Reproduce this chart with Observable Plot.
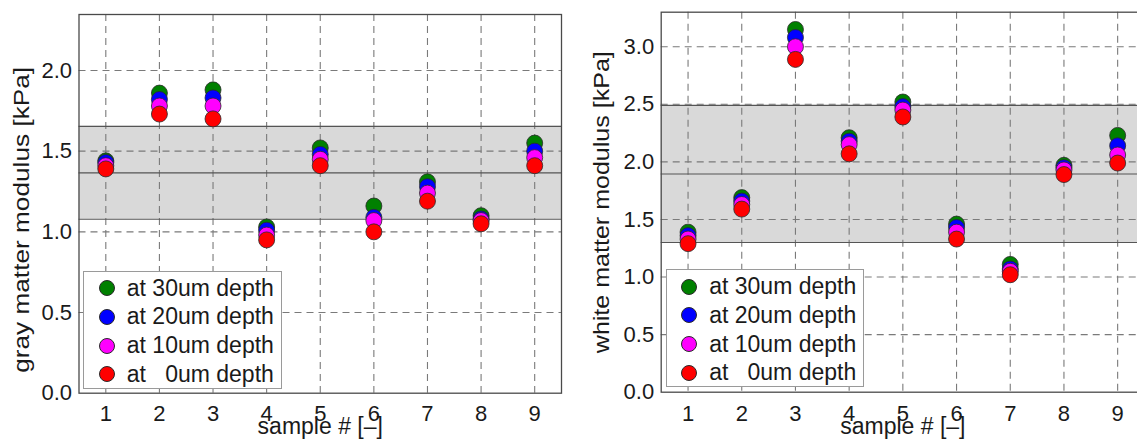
<!DOCTYPE html>
<html>
<head>
<meta charset="utf-8">
<script src="https://cdn.jsdelivr.net/npm/d3@7"></script>
<script src="https://cdn.jsdelivr.net/npm/@observablehq/plot@0.6"></script>
<style>
  html, body { margin: 0; padding: 0; background: #fff; }
  #wrap { position: relative; width: 1137px; height: 444px; overflow: hidden; display: flex; }
  #wrap > svg { flex: 0 0 auto; display: block; }
  .legend { position: absolute; background: #fff; border: 1.3px solid #9a9a9a; box-sizing: border-box;
            font-family: "Liberation Sans", Arial, sans-serif; font-size: 23px; color: #1a1a1a; }
  .legend .row { position: absolute; left: 0; height: 28px; display: flex; align-items: center; white-space: pre; }
  .legend .sw { width: 16px; height: 16px; border-radius: 50%; border: 0.8px solid #2a2a2a; box-sizing: border-box;
                margin-left: 14.5px; margin-right: 12px; }
</style>
</head>
<body>
<div id="wrap"></div>
<script>
// ---- data ----
const samples = [1, 2, 3, 4, 5, 6, 7, 8, 9];
const depthLabels = ["at 30um depth", "at 20um depth", "at 10um depth", "at   0um depth"];
const depthColors = ["#008000", "#0000ff", "#ff00ff", "#ff0000"];

const gray30 = [1.44, 1.86, 1.88, 1.03, 1.52, 1.16, 1.31, 1.10, 1.55];
const gray20 = [1.43, 1.82, 1.83, 1.01, 1.48, 1.09, 1.28, 1.08, 1.50];
const gray10 = [1.41, 1.78, 1.78, 0.98, 1.45, 1.07, 1.24, 1.07, 1.46];
const gray0  = [1.39, 1.73, 1.70, 0.95, 1.41, 1.00, 1.19, 1.05, 1.41];

const white30 = [1.39, 1.69, 3.15, 2.21, 2.52, 1.46, 1.11, 1.97, 2.23];
const white20 = [1.36, 1.66, 3.08, 2.18, 2.48, 1.43, 1.07, 1.95, 2.14];
const white10 = [1.33, 1.63, 3.00, 2.15, 2.45, 1.39, 1.05, 1.93, 2.06];
const white0  = [1.29, 1.59, 2.89, 2.07, 2.39, 1.33, 1.02, 1.89, 1.99];

const grayMean = 1.366, graySd = 0.288;
const whiteMean = 1.895, whiteSd = 0.595;

const grayTicks = [0, 0.5, 1.0, 1.5, 2.0];
const whiteTicks = [0, 0.5, 1.0, 1.5, 2.0, 2.5, 3.0];
const xLabel = "sample # [–]";
const grayLabel = "gray matter modulus [kPa]";
const whiteLabel = "white matter modulus [kPa]";

// ---- drawing ----
function panel(o) {
  const rows = o.series.flatMap((vals, i) =>
    vals.map((v, j) => ({sample: samples[j], value: v, color: depthColors[i]})));
  const grid = {stroke: "#7a7a7a", strokeOpacity: 1, strokeWidth: 1.1, strokeDasharray: "7,5"};
  const svg = Plot.plot({
    width: o.width, height: 444,
    marginLeft: o.ml, marginRight: o.mr, marginTop: o.mt, marginBottom: 444 - o.bottom,
    style: {fontFamily: '"Liberation Sans", Arial, sans-serif', fontSize: "22px", color: "#1a1a1a",
            background: "transparent", overflow: "visible"},
    x: {domain: [0.5, 9.5], ticks: samples, tickFormat: d => String(d), tickSize: 0, tickPadding: o.xpad, label: null},
    y: {domain: o.yDomain, ticks: o.yTicks, tickFormat: d => d.toFixed(1), tickSize: 0, tickPadding: 7, label: null},
    marks: [
      Plot.rect([{lo: o.mean - o.sd, hi: o.mean + o.sd}], {y1: "lo", y2: "hi", fill: "#d9d9d9"}),
      Plot.ruleX(samples, grid),
      Plot.ruleY(o.yTicks.filter(t => t > 0), grid),
      Plot.ruleY([o.mean - o.sd, o.mean, o.mean + o.sd], {stroke: "#555", strokeWidth: 1.2}),
      Plot.frame({stroke: "#4a4a4a", strokeWidth: 1.3}),
      Plot.dot(rows, {x: "sample", y: "value", fill: "color", r: 8, stroke: "#2a2a2a", strokeWidth: 0.8}),
      Plot.text([xLabel], {frameAnchor: "bottom", textAnchor: "middle", lineAnchor: "middle",
                           dy: o.xldy, fontSize: 23, fill: "#1a1a1a"}),
      Plot.text([o.yLabel], {frameAnchor: "left", textAnchor: "middle", lineAnchor: "middle", rotate: -90,
                             dx: o.yldx, dy: o.yldy, fontSize: 22, fill: "#1a1a1a"})
    ]
  });
  svg.querySelectorAll("text").forEach(t => {
    if (t.textContent === o.yLabel) {
      t.setAttribute("textLength", o.ylLen);
      t.setAttribute("lengthAdjust", "spacingAndGlyphs");
    }
  });
  return svg;
}

function legend(left, top, w, h) {
  const div = document.createElement("div");
  div.className = "legend";
  Object.assign(div.style, {left: left + "px", top: top + "px", width: w + "px", height: h + "px"});
  depthLabels.forEach((lab, i) => {
    const row = document.createElement("div");
    row.className = "row";
    row.style.top = (2.5 + i * 28.7) + "px";
    const sw = document.createElement("span");
    sw.className = "sw";
    sw.style.background = depthColors[i];
    const tx = document.createElement("span");
    tx.textContent = lab;
    row.append(sw, tx);
    div.append(row);
  });
  return div;
}

const wrap = document.getElementById("wrap");
wrap.append(panel({
  series: [gray30, gray20, gray10, gray0], width: 575, ml: 78.5, mr: 14, mt: 14, bottom: 392.7,
  yDomain: [0, 2.347], yTicks: grayTicks, mean: grayMean, sd: graySd, xpad: 12,
  yLabel: grayLabel, yldx: -57, yldy: 16, ylLen: 306, xldy: 33
}));
wrap.append(panel({
  series: [white30, white20, white10, white0], width: 580, ml: 85.7, mr: 11, mt: 11.7, bottom: 391.7,
  yDomain: [0, 3.3], yTicks: whiteTicks, mean: whiteMean, sd: whiteSd, xpad: 13,
  yLabel: whiteLabel, yldx: -59, yldy: 0, ylLen: 302, xldy: 34
}));
wrap.append(legend(83.3, 270.7, 198.4, 118.3));
wrap.append(legend(665.7, 269.3, 198.3, 117.4));
</script>
</body>
</html>
